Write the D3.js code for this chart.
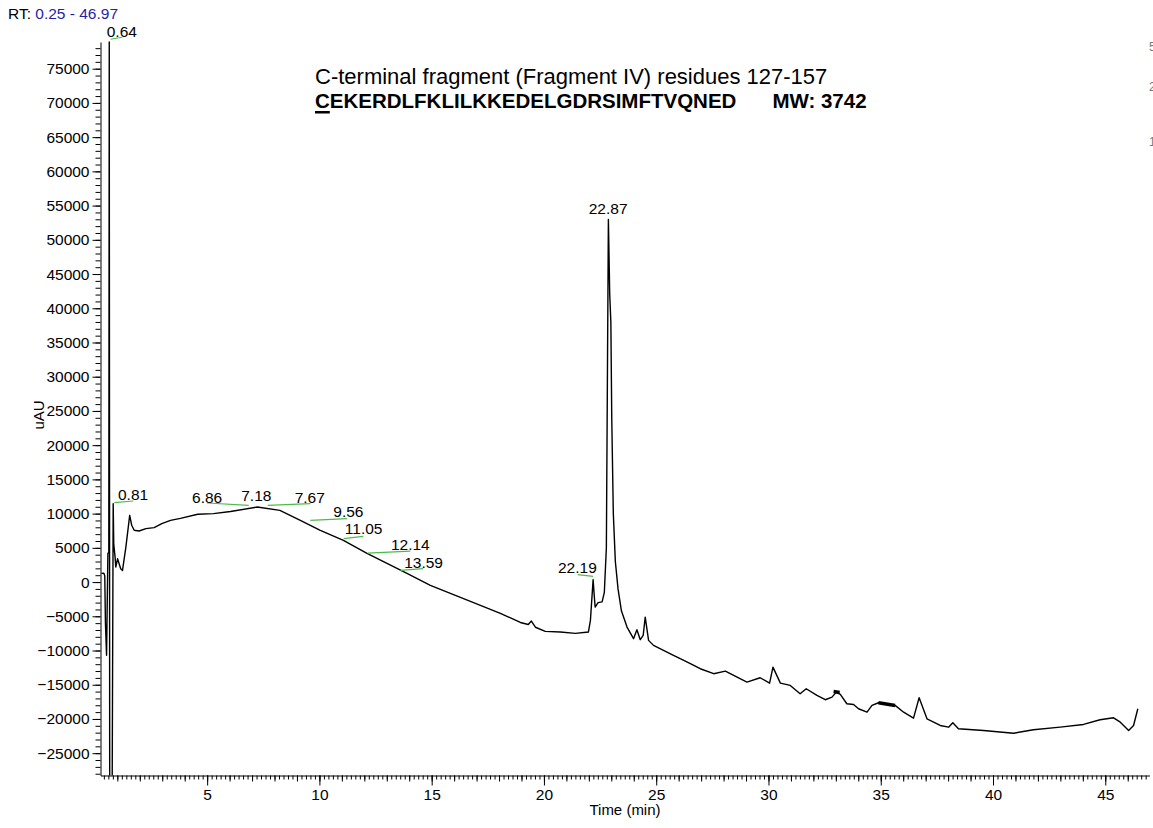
<!DOCTYPE html>
<html>
<head>
<meta charset="utf-8">
<script src="https://cdn.jsdelivr.net/npm/d3@7"></script>
<style>
  body { margin: 0; background: #fff; }
  svg text { font-family: "Liberation Sans", Arial, sans-serif; }
</style>
</head>
<body>
<div id="chart"></div>
<script>
var width = 1153,
    height = 828;

// trace: retention time (min) and signal (uAU)
var times = [0.29, 0.40, 0.44, 0.47, 0.52, 0.55, 0.58, 0.62, 0.64, 0.66, 0.77, 0.815,
             0.84, 0.90, 0.93, 1.01, 1.15, 1.23, 1.38, 1.55, 1.64, 1.75, 1.97, 2.27,
             2.64, 2.98, 3.37, 3.81, 4.58, 5.28, 6.04, 7.23, 8.24, 9.15, 10.04, 11.07,
             12.12, 13.01, 13.90, 14.94, 16.28, 17.17, 18.06, 18.95, 19.30, 19.44, 19.62,
             20.06, 20.73, 21.40, 21.98, 22.07, 22.19, 22.24, 22.28, 22.41, 22.59, 22.69,
             22.78, 22.87, 22.93, 22.98, 23.02, 23.09, 23.18, 23.30, 23.45, 23.70, 23.99,
             24.14, 24.29, 24.42, 24.51, 24.66, 24.88, 25.77, 26.07, 26.52, 26.96, 27.56,
             28.08, 29.04, 29.63, 30.05, 30.20, 30.53, 30.97, 31.41, 31.68, 32.16, 32.53,
             32.83, 33.02, 33.20, 33.49, 33.79, 34.01, 34.39, 34.61, 34.90, 35.64, 36.02,
             36.46, 36.71, 37.06, 37.65, 38.02, 38.21, 38.46, 39.58, 40.91, 41.80, 42.99,
             44.03, 44.77, 45.37, 45.67, 46.04, 46.26, 46.45];
var signal = [1270, 1300, 900, -6000, -10700, -3000, 4200, 4300, 78900, -30000, -30000, 11460,
              5500, 3650, 2200, 3400, 1950, 1700, 5100, 9750, 8300, 7560, 7460, 7800,
              7950, 8540, 9020, 9300, 9900, 10000, 10300, 10960, 10480, 9020, 7560, 6100,
              4200, 2730, 1270, -480, -2240, -3400, -4580, -5900, -6200, -5700, -6600,
              -7200, -7300, -7500, -7300, -5600, 350, -2000, -3650, -3000, -2900, -1500,
              5000, 52980, 42000, 38000, 24000, 10000, 3000, -1000, -4200, -6580, -8270,
              -6960, -8420, -7800, -5120, -8520, -9250, -10700, -11200, -11900, -12660, -13390,
              -13010, -14620, -13980, -14770, -12430, -14770, -15100, -16320, -15590, -16560, -17190,
              -16810, -16080, -16420, -17780, -17880, -18510, -19010, -18020, -17630, -18020, -19010,
              -19880, -16900, -19970, -20950, -21200, -20560, -21430, -21680, -22080, -21580, -21200,
              -20800, -20120, -19830, -20470, -21680, -20950, -18510];

// short stretches that print as a heavy band
var bandT1 = [32.90, 34.90];
var bandV1 = [-15990, -17630];
var bandT2 = [33.17, 35.64];
var bandV2 = [-16130, -18020];

// peak labels (text and where they sit)
var peakNames = ["0.64", "0.81", "6.86", "7.18", "7.67", "9.56", "11.05", "12.14", "13.59", "22.19", "22.87"];
var peakLabelT = [1.20, 1.70, 5.00, 7.19, 9.57, 11.29, 11.97, 14.05, 14.64, 21.49, 22.86];
var peakLabelV = [79680, 11940, 11550, 11840, 11550, 9500, 6970, 4740, 2100, 1370, 53760];

// green peak baselines
var baseT1 = [0.70, 0.87, 5.00, 7.70, 9.60, 11.08, 12.15, 13.61, 21.50];
var baseV1 = [79300, 11610, 11550, 11210, 9020, 6345, 4240, 1710, 1080];
var baseT2 = [1.22, 1.71, 6.85, 9.60, 11.23, 11.95, 14.05, 14.62, 22.19];
var baseV2 = [79590, 11840, 11210, 11460, 9270, 6680, 4530, 1960, 830];

var xTicks = [5, 10, 15, 20, 25, 30, 35, 40, 45];
var yTicks = [-25000, -20000, -15000, -10000, -5000, 0, 5000, 10000, 15000, 20000,
              25000, 30000, 35000, 40000, 45000, 50000, 55000, 60000, 65000, 70000, 75000];
var timeRange = [0.25, 46.97];
var signalRange = [-28260, 78900];

var svg = d3.select("#chart")
    .append("svg")
    .attr("width", width)
    .attr("height", height);

var x = d3.scaleLinear().domain(timeRange).range([100.5, 1149.5]);
var y = d3.scaleLinear().domain(signalRange).range([775.5, 42]);

svg.append("clipPath").attr("id", "plot")
  .append("rect")
    .attr("x", 100).attr("y", 0)
    .attr("width", 1053).attr("height", 775.5);

// minor ticks
var minorY = d3.range(-28000, 78001, 1000);
var minorX = d3.range(0.4, 46.97, 0.2);
var midX = d3.range(1, 47, 1);

svg.append("g")
    .attr("transform", "translate(100.5,0)")
    .call(d3.axisLeft(y).tickValues(minorY).tickSize(5).tickFormat("").tickSizeOuter(0))
    .call(function(g) { g.select(".domain").remove(); });

svg.append("g")
    .attr("transform", "translate(0,775.5)")
    .call(d3.axisBottom(x).tickValues(minorX).tickSize(4).tickFormat("").tickSizeOuter(0))
    .call(function(g) { g.select(".domain").remove(); });

svg.append("g")
    .attr("transform", "translate(0,775.5)")
    .call(d3.axisBottom(x).tickValues(midX).tickSize(6).tickFormat("").tickSizeOuter(0))
    .call(function(g) { g.select(".domain").remove(); });

svg.append("g")
    .attr("transform", "translate(100.5,0)")
    .call(d3.axisLeft(y).tickValues(yTicks).tickSize(8).tickPadding(3)
          .tickFormat(d3.format("d")).tickSizeOuter(0));

svg.append("g")
    .attr("transform", "translate(0,775.5)")
    .call(d3.axisBottom(x).tickValues(xTicks).tickSize(10).tickPadding(3)
          .tickFormat(d3.format("d")).tickSizeOuter(0));

svg.selectAll(".tick line").attr("stroke", "#000");
svg.selectAll(".domain").attr("stroke", "#000");
svg.selectAll(".tick text")
    .style("font-size", "15.5px")
    .attr("fill", "#000");

// trace
var trace = d3.line()
    .x(function(d) { return x(times[d]); })
    .y(function(d) { return y(signal[d]); });

svg.append("path")
    .datum(d3.range(times.length))
    .attr("clip-path", "url(#plot)")
    .attr("fill", "none")
    .attr("stroke", "#000")
    .attr("stroke-width", 1.4)
    .attr("stroke-linejoin", "round")
    .attr("d", trace);

svg.selectAll(".band")
    .data(bandT1)
    .enter().append("line")
    .attr("class", "band")
    .attr("x1", function(d) { return x(d); })
    .attr("y1", function(d, i) { return y(bandV1[i]); })
    .attr("x2", function(d, i) { return x(bandT2[i]); })
    .attr("y2", function(d, i) { return y(bandV2[i]); })
    .attr("stroke", "#000")
    .attr("stroke-width", 3.5);

// baselines
svg.selectAll(".base")
    .data(baseT1)
    .enter().append("line")
    .attr("class", "base")
    .attr("x1", function(d) { return x(d); })
    .attr("y1", function(d, i) { return y(baseV1[i]); })
    .attr("x2", function(d, i) { return x(baseT2[i]); })
    .attr("y2", function(d, i) { return y(baseV2[i]); })
    .attr("stroke", "#4cbb4c")
    .attr("stroke-width", 1.2);

svg.selectAll(".peak")
    .data(peakNames)
    .enter().append("text")
    .attr("class", "peak")
    .attr("x", function(d, i) { return x(peakLabelT[i]); })
    .attr("y", function(d, i) { return y(peakLabelV[i]); })
    .attr("text-anchor", "middle")
    .style("font-size", "15.5px")
    .text(function(d) { return d; });

// RT range
var rt = svg.append("text")
    .attr("x", 8)
    .attr("y", 19)
    .style("font-size", "15.5px");
rt.append("tspan").text("RT: ");
rt.append("tspan").attr("fill", "#1f1fa8").text(timeRange[0].toFixed(2) + " - " + timeRange[1].toFixed(2));

// axis titles
svg.append("text")
    .attr("transform", "translate(44,415) rotate(-90)")
    .attr("text-anchor", "middle")
    .style("font-size", "15px")
    .text("uAU");

svg.append("text")
    .attr("x", 625)
    .attr("y", 815)
    .attr("text-anchor", "middle")
    .style("font-size", "15px")
    .text("Time (min)");

// title
svg.append("text")
    .attr("x", 315)
    .attr("y", 84)
    .style("font-size", "22px")
    .text("C-terminal fragment (Fragment IV) residues 127-157");

var seq = svg.append("text")
    .attr("x", 315)
    .attr("y", 108)
    .style("font-size", "20.5px")
    .style("font-weight", "bold")
    .text("CEKERDLFKLILKKEDELGDRSIMFTVQNED");

var cWidth = seq.node().getSubStringLength(0, 1);
var seqWidth = seq.node().getComputedTextLength();
svg.append("rect")
    .attr("x", 315)
    .attr("y", 111)
    .attr("width", cWidth)
    .attr("height", 2.5)
    .attr("fill", "#000");

svg.append("text")
    .attr("x", 315 + seqWidth + 36)
    .attr("y", 108)
    .style("font-size", "20.5px")
    .style("font-weight", "bold")
    .text("MW: 3742");

// clipped glyphs at the right edge
svg.selectAll(".edge")
    .data(["5", "2", "1"])
    .enter().append("text")
    .attr("class", "edge")
    .attr("x", 1149)
    .attr("y", function(d, i) { return [51, 91, 146][i]; })
    .attr("fill", "#777")
    .style("font-size", "12px")
    .text(function(d) { return d; });
</script>
</body>
</html>
